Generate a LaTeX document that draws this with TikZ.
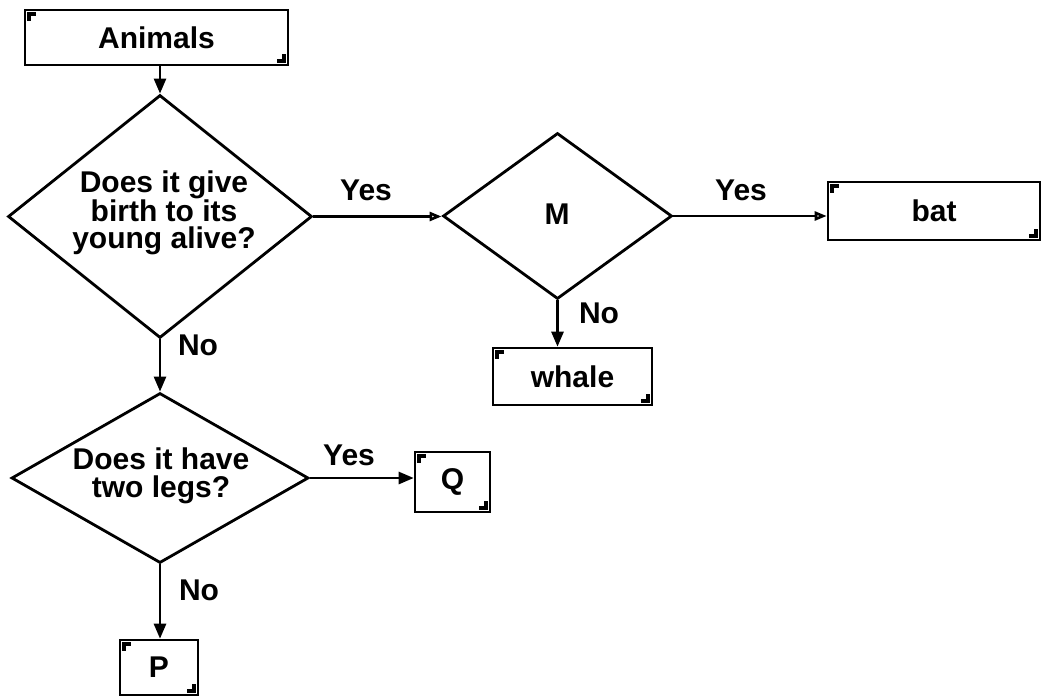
\documentclass[tikz,border=0pt]{standalone}
\usepackage{fontspec}
\setmainfont{Liberation Sans}
\usetikzlibrary{shapes.geometric,arrows.meta}
\tikzset{
  txt/.style={font=\fontsize{30}{27.5}\selectfont\bfseries},
  box/.style={draw, line width=2.6pt, inner sep=0pt, txt,
    path picture={
      \fill ([xshift=2pt,yshift=-2pt]path picture bounding box.north west) rectangle ++(9,4);
      \fill ([xshift=2pt,yshift=-2pt]path picture bounding box.north west) rectangle ++(4,9);
      \fill ([xshift=-2pt,yshift=2pt]path picture bounding box.south east) rectangle ++(-9,-4);
      \fill ([xshift=-2pt,yshift=2pt]path picture bounding box.south east) rectangle ++(-4,-9);
    }},
  dia/.style={draw, shape=diamond, line width=2.8pt, inner sep=0pt},
  dtxt/.style={txt, align=center, inner sep=0pt},
  lbl/.style={txt},
  conn/.style={line width=2.6pt, -{Triangle[length=15pt,width=12pt]}},
  conno/.style={line width=2.6pt, -{Triangle[open,length=12pt,width=9pt]}}
}
\begin{document}
\begin{tikzpicture}[x=1pt,y=-1pt]
\useasboundingbox (0,0) rectangle (1046,698);
% boxes
\node[box, minimum width=263pt, minimum height=55pt] (animals) at (156.5,37.5) {Animals};
\node[box, minimum width=212pt, minimum height=58pt] (bat) at (934,211) {bat};
\node[box, minimum width=159pt, minimum height=57pt] (whale) at (572.5,376.5) {whale};
\node[box, minimum width=75pt, minimum height=60pt] (q) at (452.5,482) {Q};
\node[box, minimum width=78pt, minimum height=55pt] (p) at (159,667.5) {P};
% diamonds
\node[dia, minimum width=304pt, minimum height=243pt] (d1) at (160,216.5) {};
\node[dtxt] (d1t) at (164,213) {Does it give\\birth to its\\young alive?};
\node[dia, minimum width=229pt, minimum height=166pt] (m) at (557.5,216) {};
\node[dtxt] (mt) at (557,214) {M};
\node[dia, minimum width=297pt, minimum height=170pt] (d2) at (160,478) {};
\node[dtxt] (d2t) at (161,476) {Does it have\\two legs?};
% connectors
\draw[conn] (animals.south -| d1.north) -- (d1.north);
\draw[conno] (d1.east) -- (d1.east -| m.west);
\draw[conno] (m.east) -- (m.east -| bat.west);
\draw[conn] (m.south) -- (m.south |- whale.north);
\draw[conn] (d1.south) -- (d2.north);
\draw[conn] (d2.east) -- (d2.east -| q.west);
\draw[conn] (d2.south) -- (d2.south |- p.north);
% labels
\node[lbl] (l1) at (366,190) {Yes};
\node[lbl] (l2) at (741,190) {Yes};
\node[lbl] (l3) at (599,313) {No};
\node[lbl] (l4) at (198,345) {No};
\node[lbl] (l5) at (349,455) {Yes};
\node[lbl] (l6) at (199,590) {No};
\end{tikzpicture}
\end{document}
